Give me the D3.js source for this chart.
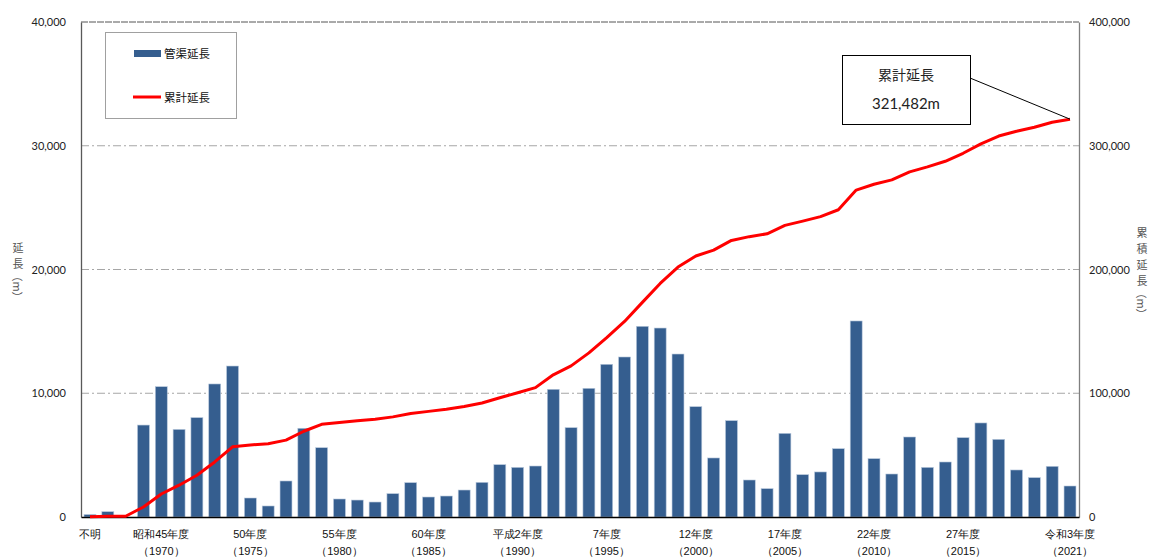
<!DOCTYPE html>
<html><head><meta charset="utf-8">
<script src="https://cdn.jsdelivr.net/npm/d3@7"></script>
<style>
html,body{margin:0;padding:0;background:#fff;}
svg{display:block;font-family:"Noto Sans CJK JP","Noto Sans",sans-serif;}
</style></head>
<body>
<svg id="chart" width="1150" height="557"></svg>
<script>
const categories = ["不明","1967","1968","1969","1970","1971","1972","1973","1974","1975","1976","1977","1978","1979","1980","1981","1982","1983","1984","1985","1986","1987","1988","1989","1990","1991","1992","1993","1994","1995","1996","1997","1998","1999","2000","2001","2002","2003","2004","2005","2006","2007","2008","2009","2010","2011","2012","2013","2014","2015","2016","2017","2018","2019","2020","2021"];
const pipeLength = [200,430,0,7430,10530,7080,8030,10750,12200,1535,890,2910,7170,5600,1455,1370,1210,1885,2775,1615,1695,2180,2800,4230,4010,4120,10320,7220,10400,12340,12930,15410,15270,13170,8915,4770,7785,2990,2290,6760,3420,3640,5520,15840,4715,3475,6465,4010,4445,6410,7600,6275,3800,3180,4095,2505];
const cumulativeLength = [200,630,630,8060,18600,25700,33750,44500,56700,58250,59150,62100,69300,74900,76400,77800,79000,80900,83700,85350,87100,89300,92100,96400,100400,104550,114900,122150,132600,145000,158000,173450,188750,201950,210900,215700,223500,226550,228850,235650,239100,242750,248300,264150,268900,272400,278900,282950,287450,293900,301550,307850,311700,314900,319000,321482];
const xTickKeys = ["不明","1970","1975","1980","1985","1990","1995","2000","2005","2010","2015","2021"];
const xTickLine1 = ["不明","昭和45年度","50年度","55年度","60年度","平成2年度","7年度","12年度","17年度","22年度","27年度","令和3年度"];
const xTickLine2 = ["","（1970）","（1975）","（1980）","（1985）","（1990）","（1995）","（2000）","（2005）","（2010）","（2015）","（2021）"];
const leftTicks = [0,10000,20000,30000,40000];
const rightTicks = [0,100000,200000,300000,400000];
const seriesNames = ["管渠延長","累計延長"];
const annotationTitle = "累計延長";
const annotationValue = "321,482m";
const leftAxisTitle = "延長（m）";
const rightAxisTitle = "累積延長（m）";

const svg = d3.select("#chart");
const L = 81, R = 1079, T = 22, B = 517;

const x = d3.scaleBand().domain(categories).range([L, R]).paddingInner(0.33).paddingOuter(0.17);
const y = d3.scaleLinear().domain([0, 40000]).range([B, T]);
const y2 = d3.scaleLinear().domain([0, 400000]).range([B, T]);

// gridlines
svg.append("g").selectAll("line").data(leftTicks.filter(d => d > 0)).join("line")
  .attr("x1", L).attr("x2", R)
  .attr("y1", d => y(d)).attr("y2", d => y(d))
  .attr("stroke", d => d === 40000 ? "#555" : "#a6a6a6")
  .attr("stroke-width", 1)
  .attr("stroke-dasharray", d => d === 40000 ? "7,1" : "8,3,2,3");

// bars
svg.append("g").selectAll("rect").data(categories).join("rect")
  .attr("x", d => x(d))
  .attr("width", x.bandwidth())
  .attr("y", (d, i) => y(pipeLength[i]))
  .attr("height", (d, i) => B - y(pipeLength[i]))
  .attr("fill", "#355e8f")
  .attr("stroke", "#b8c8dc").attr("stroke-width", 0.6);

// left axis
const gl = svg.append("g").attr("transform", `translate(${L},0)`)
  .call(d3.axisLeft(y).tickValues(leftTicks).tickSize(0).tickPadding(15).tickFormat(d3.format(",")));
gl.select(".domain").attr("stroke", "#595959").attr("stroke-width", 1.3);
gl.selectAll("text").attr("font-size", 11).attr("fill", "#222").attr("font-family", "Lato, 'Noto Sans', sans-serif");

// right axis
const gr = svg.append("g").attr("transform", `translate(${R},0)`)
  .call(d3.axisRight(y2).tickValues(rightTicks).tickSize(0).tickPadding(10).tickFormat(d3.format(",")));
gr.select(".domain").attr("stroke", "#7f7f7f").attr("stroke-width", 1.3);
gr.selectAll("text").attr("font-size", 11).attr("fill", "#222").attr("font-family", "Lato, 'Noto Sans', sans-serif");

// bottom axis
const gb = svg.append("g").attr("transform", `translate(0,${B})`)
  .call(d3.axisBottom(x).tickValues(xTickKeys).tickSize(0).tickPadding(0).tickFormat(""));
gb.select(".domain").attr("stroke", "#000").attr("stroke-width", 1.5);
gb.selectAll(".tick").each(function(d) {
  const i = xTickKeys.indexOf(d);
  const t = d3.select(this).append("text").attr("text-anchor", "middle")
    .attr("font-size", 11).attr("fill", "#111");
  t.append("tspan").attr("x", 0).attr("y", 21).text(xTickLine1[i]);
  if (xTickLine2[i]) t.append("tspan").attr("x", 0).attr("y", 38).text(xTickLine2[i]);
});

// cumulative line
const line = d3.line().x((d, i) => x(categories[i]) + x.bandwidth() / 2).y(d => y2(d));
svg.append("path").datum(cumulativeLength)
  .attr("d", line).attr("fill", "none").attr("stroke", "#ff0000").attr("stroke-width", 3).attr("stroke-linejoin", "round");

// axis titles (vertical writing, one glyph per element)
function verticalTitle(xc, yStart, txt) {
  const g = svg.append("g").attr("fill", "#555").attr("font-size", 11);
  let yy = yStart;
  [...txt].forEach(ch => {
    const sideways = (ch === "（" || ch === "）" || ch === "m");
    const step = (ch === "（" || ch === "）") ? 10 : (ch === "m" ? 11 : 16);
    const cy = yy + step / 2;
    g.append("text").attr("text-anchor", "middle").attr("dominant-baseline", "central")
      .attr("transform", sideways ? `translate(${xc},${cy}) rotate(90)` : `translate(${xc},${cy})`)
      .text(ch);
    yy += step;
  });
}
verticalTitle(18, 239, leftAxisTitle);
verticalTitle(1142, 224, rightAxisTitle);

// legend
const lg = svg.append("g");
lg.append("rect").attr("x", 105.5).attr("y", 32.5).attr("width", 131).attr("height", 86)
  .attr("fill", "#fff").attr("stroke", "#a0a0a0").attr("stroke-width", 1);
lg.append("rect").attr("x", 134).attr("y", 50).attr("width", 27).attr("height", 7).attr("fill", "#355e8f");
lg.append("line").attr("x1", 133).attr("x2", 161).attr("y1", 97).attr("y2", 97).attr("stroke", "#ff0000").attr("stroke-width", 3);
lg.append("text").attr("x", 164).attr("y", 57.5).attr("font-size", 11.5).attr("fill", "#111").text(seriesNames[0]);
lg.append("text").attr("x", 164).attr("y", 101.5).attr("font-size", 11.5).attr("fill", "#111").text(seriesNames[1]);

// annotation
const lastX = x(categories[categories.length - 1]) + x.bandwidth() / 2;
const lastY = y2(cumulativeLength[cumulativeLength.length - 1]);
svg.append("line").attr("x1", 970).attr("y1", 78).attr("x2", lastX).attr("y2", lastY)
  .attr("stroke", "#000").attr("stroke-width", 1);
svg.append("rect").attr("x", 842.5).attr("y", 55.5).attr("width", 128).attr("height", 69)
  .attr("fill", "#fff").attr("stroke", "#000").attr("stroke-width", 1);
svg.append("text").attr("x", 906).attr("y", 80).attr("text-anchor", "middle").attr("font-size", 14).attr("fill", "#222").text(annotationTitle);
svg.append("text").attr("x", 906).attr("y", 109).attr("text-anchor", "middle").attr("font-size", 15).attr("fill", "#222").attr("font-family", "Lato, 'Noto Sans', sans-serif").text(annotationValue);
</script>
</body></html>
